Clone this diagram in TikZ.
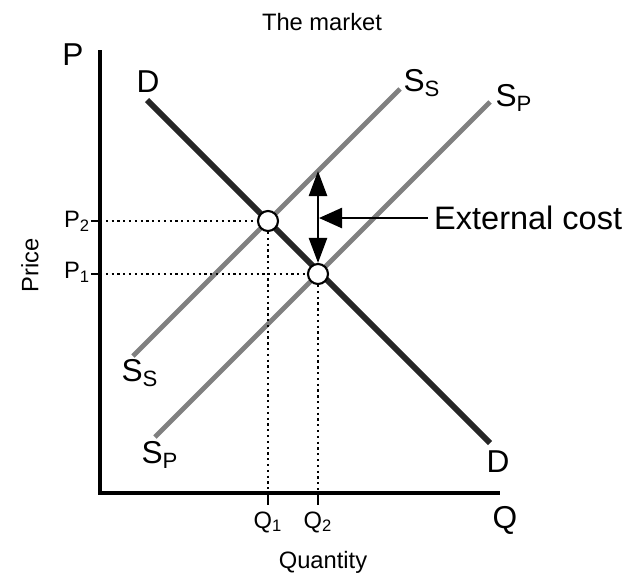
\documentclass[tikz,border=0pt]{standalone}
\usepackage{fontspec}
\setmainfont{Liberation Sans}
\usetikzlibrary{arrows.meta,positioning,calc}

\begin{document}
\begin{tikzpicture}[
    x=0.02cm, y=-0.02cm,
    axis/.style={line width=1.8pt, draw=black},
    demand/.style={line width=3.4pt, draw=black!85},
    supply/.style={line width=2.8pt, draw=black!50},
    guide/.style={dotted, line width=1.3pt},
    eqpt/.style={circle, draw=black, fill=white, line width=1.2pt, minimum size=0.4cm, inner sep=0pt},
    biglbl/.style={font=\fontsize{18}{20}\selectfont, inner sep=1pt},
    ticklbl/.style={font=\fontsize{13.5}{15}\selectfont, inner sep=1pt},
    arrow/.style={-{Triangle[length=0.5cm, width=0.36cm]}, line width=1.4pt, draw=black}
]
    \useasboundingbox (0,0) rectangle (634,575);

    % axes
    \coordinate (origin) at (100,493);
    \coordinate (ytop) at (100,50);
    \coordinate (xend) at (500,493);
    \draw [axis] (ytop) -- (origin) -- (xend);

    % curves
    \coordinate (d1) at (147,100);
    \coordinate (d2) at (490,443);
    \coordinate (ss1) at (133,356);
    \coordinate (ss2) at (400,89);
    \coordinate (sp1) at (155,437);
    \coordinate (sp2) at (490,102);
    \draw [supply] (ss1) -- (ss2);
    \draw [supply] (sp1) -- (sp2);
    \draw [demand] (d1) -- (d2);

    % equilibrium points
    \node [eqpt] (eqS) at (268,221) {};
    \node [eqpt] (eqP) at (318,274) {};

    % price and quantity guides
    \coordinate (p2) at (100,221);
    \coordinate (p1) at (100,274);
    \coordinate (q1) at (268,493);
    \coordinate (q2) at (318,493);
    \draw [guide] (p2) -- (eqS) -- (q1);
    \draw [guide] (p1) -- (eqP) -- (q2);
    \draw [line width=1.3pt] (p2) -- ++(-9,0) (p1) -- ++(-9,0);
    \draw [line width=1.3pt] (q1) -- ++(0,12) (q2) -- ++(0,12);

    % external cost
    \coordinate (top) at (318,171);
    \draw [arrow, {Triangle[length=0.5cm, width=0.36cm]}-{Triangle[length=0.5cm, width=0.36cm]}] (top) -- (eqP.north);
    \node [font=\fontsize{18.5}{21}\selectfont, anchor=west] (ext) at (428,218) {External cost};
    \draw [arrow, -{Triangle[length=0.46cm, width=0.4cm]}] (ext.west) -- (319,218);

    % labels
    \node [font=\fontsize{13.5}{15}\selectfont] (title) at (322,22) {The market};
    \node [biglbl] (plbl) at (73,55) {P};
    \node [biglbl] (qlbl) at (505,520) {Q};
    \node [biglbl] (dtop) at (148,82) {D};
    \node [biglbl] (dbot) at (498,462) {D};
    \node [biglbl] (sstop) at (422,83) {S\textsubscript{S}};
    \node [biglbl] (sptop) at (514,98) {S\textsubscript{P}};
    \node [biglbl] (ssbot) at (140,373) {S\textsubscript{S}};
    \node [biglbl] (spbot) at (160,455) {S\textsubscript{P}};
    \node [ticklbl] (p2lbl) at (77,221) {P\textsubscript{2}};
    \node [ticklbl] (p1lbl) at (77,272) {P\textsubscript{1}};
    \node [ticklbl] (q1lbl) at (268,522) {Q\textsubscript{1}};
    \node [ticklbl] (q2lbl) at (318,522) {Q\textsubscript{2}};
    \node [font=\fontsize{13.5}{15}\selectfont] (qtitle) at (323,562) {Quantity};
    \node [font=\fontsize{13.5}{15}\selectfont, rotate=90] (ptitle) at (30,265) {Price};
\end{tikzpicture}
\end{document}
